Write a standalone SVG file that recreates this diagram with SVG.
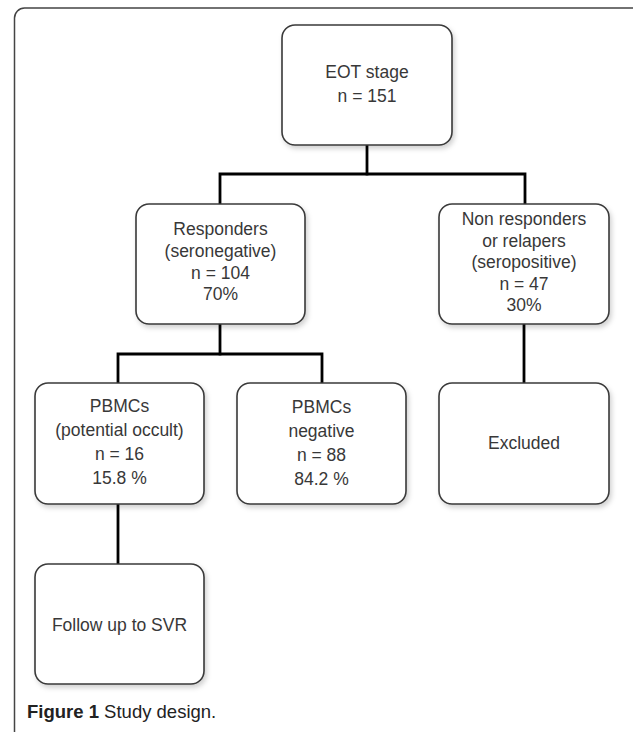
<svg xmlns="http://www.w3.org/2000/svg" width="633" height="732" viewBox="0 0 633 732">
<style>
.box{fill:#fff;stroke:#3a3a3a;stroke-width:1.6;filter:url(#sh)}
.t{font-family:"Liberation Sans",Arial,sans-serif;font-size:17.5px;fill:#383838;text-anchor:middle}
.c{fill:none;stroke:#000;stroke-width:2.8;stroke-linejoin:miter;stroke-linecap:square}
.cap{font-family:"Liberation Sans",Arial,sans-serif;font-size:18.5px;fill:#222}
</style>
<defs>
<filter id="sh" x="-10%" y="-10%" width="125%" height="125%">
<feDropShadow dx="2" dy="3" stdDeviation="2.5" flood-color="#000" flood-opacity="0.18"/>
</filter>
</defs>
<rect width="633" height="732" fill="#fff"/>
<path d="M14.5,732 V18 A10,10 0 0 1 24.5,8 H640" fill="none" stroke="#444" stroke-width="1.5"/>
<g id="connectors">
<path class="c" d="M367,146 V174"/>
<path class="c" d="M220,204 V174 H525 V204"/>
<path class="c" d="M220,324 V354"/>
<path class="c" d="M118,383 V354 H322 V383"/>
<path class="c" d="M524,324 V383"/>
<path class="c" d="M118,504 V564"/>
</g>
<g id="eot">
<rect class="box" x="282" y="25" width="170" height="120" rx="13"/>
<text class="t" x="367" y="78">EOT stage</text>
<text class="t" x="367" y="102">n = 151</text>
</g>
<g id="responders">
<rect class="box" x="136" y="204" width="169" height="120" rx="13"/>
<text class="t" x="220.5" y="235">Responders</text>
<text class="t" x="220.5" y="257">(seronegative)</text>
<text class="t" x="220.5" y="278.5">n = 104</text>
<text class="t" x="220.5" y="300">70%</text>
</g>
<g id="nonresponders">
<rect class="box" x="439" y="204" width="170" height="120" rx="13"/>
<text class="t" x="524" y="225">Non responders</text>
<text class="t" x="524" y="246.5">or relapers</text>
<text class="t" x="524" y="268">(seropositive)</text>
<text class="t" x="524" y="289.5">n = 47</text>
<text class="t" x="524" y="311">30%</text>
</g>
<g id="pbmc-occult">
<rect class="box" x="35" y="383" width="169" height="121" rx="13"/>
<text class="t" x="119.5" y="412">PBMCs</text>
<text class="t" x="119.5" y="436">(potential occult)</text>
<text class="t" x="119.5" y="460">n = 16</text>
<text class="t" x="119.5" y="484">15.8 %</text>
</g>
<g id="pbmc-negative">
<rect class="box" x="237" y="383" width="169" height="121" rx="13"/>
<text class="t" x="321.5" y="413">PBMCs</text>
<text class="t" x="321.5" y="437">negative</text>
<text class="t" x="321.5" y="461">n = 88</text>
<text class="t" x="321.5" y="485">84.2 %</text>
</g>
<g id="excluded">
<rect class="box" x="439" y="383" width="170" height="121" rx="13"/>
<text class="t" x="524" y="449">Excluded</text>
</g>
<g id="followup">
<rect class="box" x="35" y="564" width="169" height="120" rx="13"/>
<text class="t" x="119.5" y="631">Follow up to SVR</text>
</g>
<text class="cap" x="27" y="718"><tspan font-weight="bold">Figure 1</tspan> Study design.</text>
</svg>
